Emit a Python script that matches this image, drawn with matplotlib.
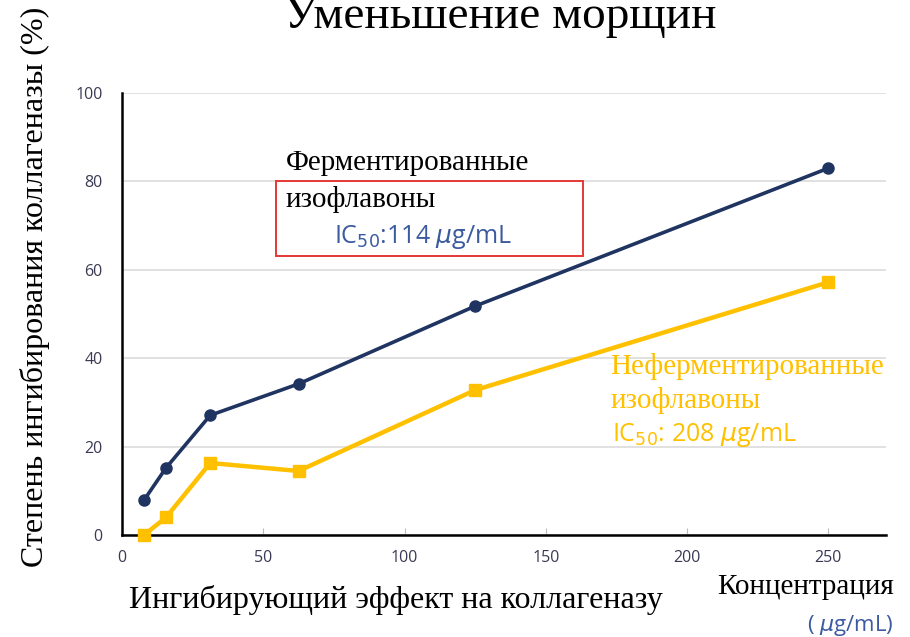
import numpy as np
import matplotlib.pyplot as plt
from matplotlib.patches import Rectangle

# concentration (ug/mL)
conc = [7.8, 15.6, 31.25, 62.5, 125, 250]
# inhibition (%)
fermented = [7.9, 15.2, 27.1, 34.2, 51.8, 83.0]
non_fermented = [0.0, 4.0, 16.3, 14.5, 32.8, 57.2]

xticks = [0, 50, 100, 150, 200, 250]
yticks = [0, 20, 40, 60, 80, 100]

navy = '#1f3461'
gold = '#ffc000'
serif = ['Liberation Serif', 'DejaVu Serif']
sans = ['Open Sans', 'DejaVu Sans']

fig = plt.figure(figsize=(9.1, 6.37), dpi=100)
ax = fig.add_axes([0.134, 0.160, 0.840, 0.694])

ax.plot(conc, fermented, color=navy, lw=2.6, marker='o', ms=8, clip_on=False, zorder=4)
ax.plot(conc, non_fermented, color=gold, lw=3.2, marker='s', ms=9, clip_on=False, zorder=3)

ax.set_xlim(0, 270.5)
ax.set_ylim(0, 100)
ax.set_xticks(xticks)
ax.set_yticks(yticks)
ax.yaxis.grid(True, color='#dcdcdc', lw=1.2)
ax.set_axisbelow(True)
for s in ['top', 'right']:
    ax.spines[s].set_visible(False)
for s in ['left', 'bottom']:
    ax.spines[s].set_linewidth(1.8)
ax.tick_params(axis='x', direction='in', length=5, color='#bbbbbb', pad=11)
ax.tick_params(axis='y', length=0, pad=14)
for lab in ax.get_xticklabels() + ax.get_yticklabels():
    lab.set_family(sans)
    lab.set_fontsize(11.5)
    lab.set_color('#3a3a55')

# red box with fermented label
ax.add_patch(Rectangle((54.5, 63.1), 108.5, 17.0, fill=True, facecolor='white',
                       edgecolor='#e53935', lw=1.4, zorder=2))
ax.text(58, 84.2, 'Ферментированные', family=serif, fontsize=21,
        color='black', va='center', ha='left', zorder=5)
ax.text(58, 75.8, 'изофлавоны', family=serif, fontsize=21,
        color='black', va='center', ha='left', zorder=5)
ax.text(75, 67.4, r'IC$_{50}$:114 $\mu$g/mL', family=sans, fontsize=18,
        color='#3b5aa0', va='center', ha='left', zorder=5)

ax.text(172.8, 38.2, 'Неферментированные', family=serif, fontsize=21,
        color=gold, va='center', ha='left')
ax.text(172.8, 30.5, 'изофлавоны', family=serif, fontsize=21,
        color=gold, va='center', ha='left')
ax.text(173.5, 22.6, r'IC$_{50}$: 208 $\mu$g/mL', family=sans, fontsize=18,
        color=gold, va='center', ha='left')

fig.text(0.55, 1 - 28 / 637, 'Уменьшение морщин', family=serif, fontsize=34,
         ha='center', va='baseline')
fig.text(0.038, 0.549, 'Степень ингибирования коллагеназы (%)', family=serif,
         fontsize=23, rotation=90, ha='center', va='center')
fig.text(0.435, 1 - 608 / 637, 'Ингибирующий эффект на коллагеназу', family=serif,
         fontsize=23, ha='center', va='baseline')
fig.text(0.982, 1 - 594 / 637, 'Концентрация', family=serif, fontsize=21,
         ha='right', va='baseline')
fig.text(0.982, 1 - 631 / 637, r'( $\mu$g/mL)', family=sans, fontsize=16,
         color='#3b5aa0', ha='right', va='baseline')

fig.savefig('out.png', dpi=100)
